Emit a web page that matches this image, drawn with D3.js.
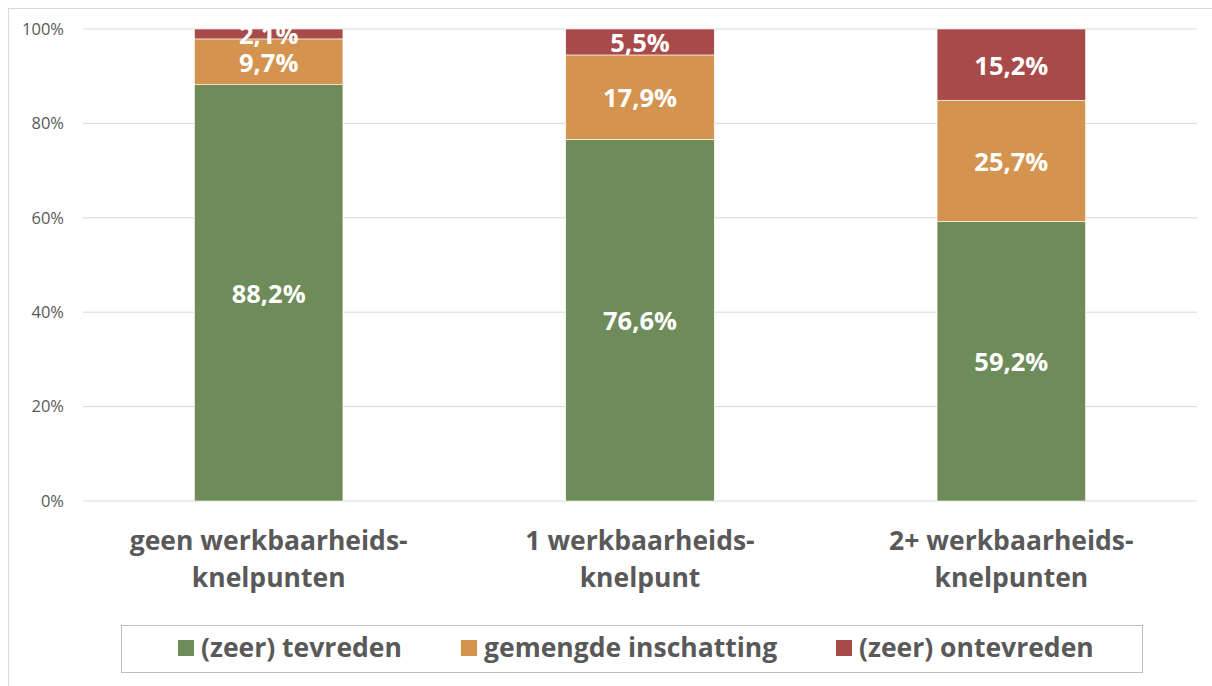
<!DOCTYPE html>
<meta charset="utf-8">
<script src="https://d3js.org/d3.v7.min.js"></script>
<style>
  body { margin: 0; background: #fff; }
  text { font-family: "Open Sans", sans-serif; }
</style>
<div id="chart"></div>
<script>
// data
const categories = [["geen werkbaarheids-", "knelpunten"], ["1 werkbaarheids-", "knelpunt"], ["2+ werkbaarheids-", "knelpunten"]];
const seriesNames = ["(zeer) tevreden", "gemengde inschatting", "(zeer) ontevreden"];
const tevreden = [88.2, 76.6, 59.2];
const gemengd = [9.7, 17.9, 25.7];
const ontevreden = [2.1, 5.5, 15.2];
const yTicks = [0, 20, 40, 60, 80, 100];
const colors = ["#6e8b5a", "#d4944f", "#a94a4a"];

const W = 1212, H = 686;
const margin = {top: 29, right: 15, bottom: 185, left: 83};
const width = W - margin.left - margin.right,
      height = H - margin.top - margin.bottom;

const svg = d3.select("#chart").append("svg")
  .attr("width", W).attr("height", H);

// outer chart border
svg.append("rect")
  .attr("x", 8.5).attr("y", 8.5)
  .attr("width", W + 10).attr("height", H + 10)
  .attr("fill", "none").attr("stroke", "#d9d9d9");

const g = svg.append("g").attr("transform", `translate(${margin.left},${margin.top})`);

const x = d3.scaleBand()
  .domain(d3.range(categories.length))
  .range([0, width])
  .paddingInner(0.6)
  .paddingOuter(0.3);

const y = d3.scaleLinear().domain([0, 100]).range([height, 0]);

// gridlines
g.selectAll(".grid").data(yTicks).join("line")
  .attr("x1", 0).attr("x2", width)
  .attr("y1", d => y(d)).attr("y2", d => y(d))
  .attr("stroke", "#d9d9d9").attr("stroke-width", 1);

// y axis labels
const yAxis = g.append("g").call(d3.axisLeft(y).tickValues(yTicks).tickFormat(d => d + "%").tickSize(0).tickPadding(19));
yAxis.select(".domain").remove();
yAxis.selectAll("text").attr("font-size", 16.5).attr("fill", "#595959").attr("font-family", "Open Sans, sans-serif");

// stack
const rows = categories.map((c, i) => ({i, s0: tevreden[i], s1: gemengd[i], s2: ontevreden[i]}));
const stack = d3.stack().keys(["s0", "s1", "s2"])(rows);

stack.forEach((layer, k) => {
  g.selectAll(".bar" + k).data(layer).join("rect")
    .attr("x", d => x(d.data.i))
    .attr("width", x.bandwidth())
    .attr("y", d => y(Math.min(d[1], 100)))
    .attr("height", d => y(d[0]) - y(Math.min(d[1], 100)))
    .attr("fill", colors[k])
    .attr("stroke", "#fff").attr("stroke-width", 0.6);

  g.selectAll(".lab" + k).data(layer).join("text")
    .attr("x", d => x(d.data.i) + x.bandwidth() / 2)
    .attr("y", d => (y(d[0]) + y(Math.min(d[1], 100))) / 2)
    .attr("dy", "0.4em")
    .attr("text-anchor", "middle")
    .attr("font-size", 25.5).attr("font-weight", "bold").attr("fill", "#fff")
    .text(d => String(d.data["s" + k]).replace(".", ",") + "%");
});

// category labels
const cat = g.selectAll(".cat").data(categories).join("text")
  .attr("text-anchor", "middle")
  .attr("font-size", 26.5).attr("font-weight", "bold").attr("fill", "#595959")
  .attr("transform", (d, i) => `translate(${x(i) + x.bandwidth() / 2},${height + 49})`);
cat.selectAll("tspan").data(d => d).join("tspan")
  .attr("x", 0).attr("dy", (d, j) => j === 0 ? 0 : 37)
  .text(d => d);

// legend
const legend = svg.append("g");
legend.append("rect")
  .attr("x", 121.5).attr("y", 625.5).attr("width", 1021).attr("height", 47)
  .attr("fill", "#fff").attr("stroke", "#bfbfbf");
const legendX = [178, 461, 836];
seriesNames.forEach((name, k) => {
  legend.append("rect")
    .attr("x", legendX[k]).attr("y", 640).attr("width", 16).attr("height", 16)
    .attr("fill", colors[k]);
  legend.append("text")
    .attr("x", legendX[k] + 23).attr("y", 657)
    .attr("font-size", 26.5).attr("font-weight", "bold").attr("fill", "#595959")
    .text(name);
});
</script>
